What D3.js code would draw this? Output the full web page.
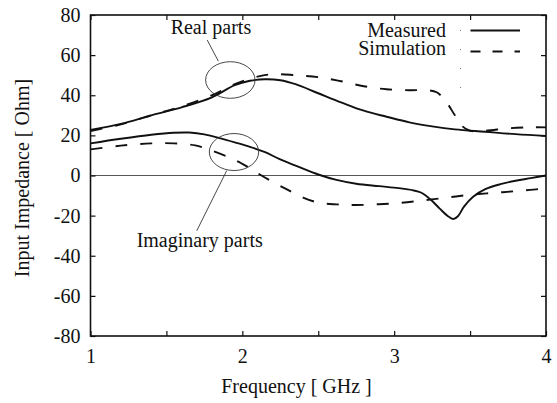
<!DOCTYPE html>
<html>
<head>
<meta charset="utf-8">
<script src="https://cdn.jsdelivr.net/npm/d3@7/dist/d3.min.js"></script>
<style>
  html, body { margin: 0; padding: 0; background: #fff; }
  svg { display: block; }
  svg text { font-family: 'Liberation Serif', 'Tinos', 'Times New Roman', Times, serif; fill: #111; }
</style>
</head>
<body>
<svg id="chart" width="557" height="403"></svg>
<script>
// ---- data ----
const measuredRealF = [1.00, 1.20, 1.40, 1.60, 1.80, 1.95, 2.05, 2.15, 2.25, 2.35, 2.50, 2.65, 2.80, 2.95, 3.10, 3.25, 3.40, 3.60, 3.80, 4.00];
const measuredRealV = [22.7, 25.7, 30.0, 34.0, 39.0, 45.0, 47.2, 48.0, 47.5, 45.5, 41.0, 36.5, 32.3, 29.3, 26.5, 24.5, 23.0, 21.8, 20.6, 19.7];

const simRealF = [1.00, 1.20, 1.40, 1.60, 1.80, 1.95, 2.10, 2.20, 2.35, 2.50, 2.65, 2.80, 2.95, 3.10, 3.22, 3.28, 3.34, 3.40, 3.45, 3.50, 3.60, 3.75, 3.90, 4.00];
const simRealV = [22.2, 25.5, 30.0, 34.5, 40.0, 45.5, 49.3, 50.5, 50.0, 49.0, 47.0, 44.5, 43.0, 42.5, 42.5, 41.5, 37.0, 30.0, 24.5, 22.3, 22.3, 23.5, 24.0, 24.0];

const measuredImagF = [1.00, 1.20, 1.40, 1.55, 1.65, 1.75, 1.85, 1.95, 2.05, 2.15, 2.25, 2.38, 2.50, 2.62, 2.75, 2.90, 3.03, 3.12, 3.18, 3.24, 3.30, 3.36, 3.39, 3.42, 3.46, 3.52, 3.60, 3.70, 3.80, 3.90, 4.00];
const measuredImagV = [16.0, 18.3, 20.3, 21.3, 21.4, 20.5, 18.6, 16.5, 14.3, 11.6, 8.0, 4.0, 0.5, -2.2, -4.1, -5.3, -6.3, -7.3, -8.6, -12.0, -16.5, -20.6, -21.7, -20.3, -15.5, -10.6, -6.8, -4.3, -2.6, -1.3, 0.0];

const simImagF = [1.00, 1.20, 1.40, 1.55, 1.69, 1.79, 1.92, 2.00, 2.05, 2.10, 2.20, 2.30, 2.40, 2.50, 2.62, 2.75, 2.90, 3.05, 3.20, 3.35, 3.50, 3.65, 3.80, 3.95, 4.00];
const simImagV = [13.0, 14.9, 16.0, 16.0, 15.0, 12.7, 8.8, 5.8, 3.7, 1.2, -3.2, -7.2, -11.0, -13.5, -14.4, -14.7, -14.3, -13.6, -12.3, -11.0, -9.6, -8.7, -7.8, -6.8, -6.6];

const xTicks = [1, 1.5, 2, 2.5, 3, 3.5, 4];
const xTickLabels = ["1", "", "2", "", "3", "", "4"];
const yTicks = [-80, -60, -40, -20, 0, 20, 40, 60, 80];
const yTickLabels = ["-80", "-60", "-40", "-20", "0", "20", "40", "60", "80"];

const seriesNames = ["Measured", "Simulation"];
const xTitle = "Frequency [ GHz ]";
const yTitle = "Input Impedance [ Ohm]";
const realLabel = "Real parts";
const imagLabel = "Imaginary parts";

// ---- layout ----
const svg = d3.select("#chart");
const L = 90.5, R = 546, T = 15, B = 336;
const x = d3.scaleLinear().domain([1, 4]).range([L, R]);
const y = d3.scaleLinear().domain([-80, 80]).range([B, T]);
const FS = 20;

const zip = (fs, vs) => fs.map((f, i) => [f, vs[i]]);
const line = d3.line().x(d => x(d[0])).y(d => y(d[1])).curve(d3.curveCatmullRom.alpha(0.5));

// zero line
svg.append("line")
  .attr("x1", x(1)).attr("x2", x(4)).attr("y1", y(0)).attr("y2", y(0))
  .attr("stroke", "#555").attr("stroke-width", 1);

// curves
const curves = [
  {d: zip(measuredRealF, measuredRealV), dash: null},
  {d: zip(measuredImagF, measuredImagV), dash: null},
  {d: zip(simRealF, simRealV), dash: "12,13"},
  {d: zip(simImagF, simImagV), dash: "12,13"}
];
curves.forEach(c => {
  svg.append("path").attr("d", line(c.d))
    .attr("fill", "none").attr("stroke", "#111").attr("stroke-width", 1.9)
    .attr("stroke-dasharray", c.dash);
});

// axes
const fmtX = d => xTickLabels[xTicks.indexOf(d)];
const fmtY = d => yTickLabels[yTicks.indexOf(d)];

const gB = svg.append("g").attr("transform", `translate(0,${B})`)
  .call(d3.axisBottom(x).tickValues(xTicks).tickFormat(fmtX).tickSizeInner(-5).tickSizeOuter(0).tickPadding(13));
const gL = svg.append("g").attr("transform", `translate(${L},0)`)
  .call(d3.axisLeft(y).tickValues(yTicks).tickFormat(fmtY).tickSizeInner(-5).tickSizeOuter(0).tickPadding(10));
const gT = svg.append("g").attr("transform", `translate(0,${T})`)
  .call(d3.axisTop(x).tickValues(xTicks).tickFormat("").tickSizeInner(-5).tickSizeOuter(0));
const gR = svg.append("g").attr("transform", `translate(${R},0)`)
  .call(d3.axisRight(y).tickValues(yTicks).tickFormat("").tickSizeInner(-5).tickSizeOuter(0));
[gB, gL, gT, gR].forEach(g => {
  g.attr("font-family", null);
  g.select(".domain").remove();
  g.selectAll("line").attr("stroke", "#111").attr("stroke-width", 1.2);
  g.selectAll("text").attr("font-size", FS).attr("fill", "#111");
});

// frame
svg.append("rect").attr("x", L).attr("y", T).attr("width", R - L).attr("height", B - T)
  .attr("fill", "none").attr("stroke", "#111").attr("stroke-width", 1.6);

// axis titles
svg.append("text").attr("x", 296.5).attr("y", 393).attr("text-anchor", "middle")
  .attr("font-size", FS).text(xTitle);
svg.append("text").attr("transform", "translate(29,178) rotate(-90)").attr("text-anchor", "middle")
  .attr("font-size", FS).text(yTitle);

// annotations (placed in data coordinates)
const ann = svg.append("g").attr("stroke", "#333").attr("stroke-width", 0.9).attr("fill", "none");
ann.append("ellipse").attr("cx", x(1.921)).attr("cy", y(47.6)).attr("rx", 24.7).attr("ry", 18.3);
ann.append("ellipse").attr("cx", x(1.945)).attr("cy", y(11.7)).attr("rx", 24.7).attr("ry", 18.5);
ann.append("line").attr("x1", x(1.769)).attr("y1", y(67.5)).attr("x2", x(1.842)).attr("y2", y(57.0));
ann.append("line").attr("x1", x(1.897)).attr("y1", y(2.4)).attr("x2", x(1.700)).attr("y2", y(-27.5));
svg.append("text").attr("x", x(1.528)).attr("y", y(70.3)).attr("font-size", FS).text(realLabel);
svg.append("text").attr("x", x(1.304)).attr("y", y(-35.5)).attr("font-size", FS).text(imagLabel);

// legend
const lg = svg.append("g");
const legendRows = [{name: seriesNames[0], dash: null, ty: 36.5, ly: 30.5},
                    {name: seriesNames[1], dash: "10,12", ty: 55, ly: 51.5}];
legendRows.forEach(r => {
  lg.append("text").attr("x", 446).attr("y", r.ty).attr("text-anchor", "end")
    .attr("font-size", FS).text(r.name);
  lg.append("line").attr("x1", 470.5).attr("x2", 520).attr("y1", r.ly).attr("y2", r.ly)
    .attr("stroke", "#111").attr("stroke-width", 1.9).attr("stroke-dasharray", r.dash);
});
lg.append("line").attr("x1", 460.5).attr("x2", 460.5).attr("y1", 30).attr("y2", 88)
  .attr("stroke", "#777").attr("stroke-width", 1).attr("stroke-dasharray", "1,18");
</script>
</body>
</html>
